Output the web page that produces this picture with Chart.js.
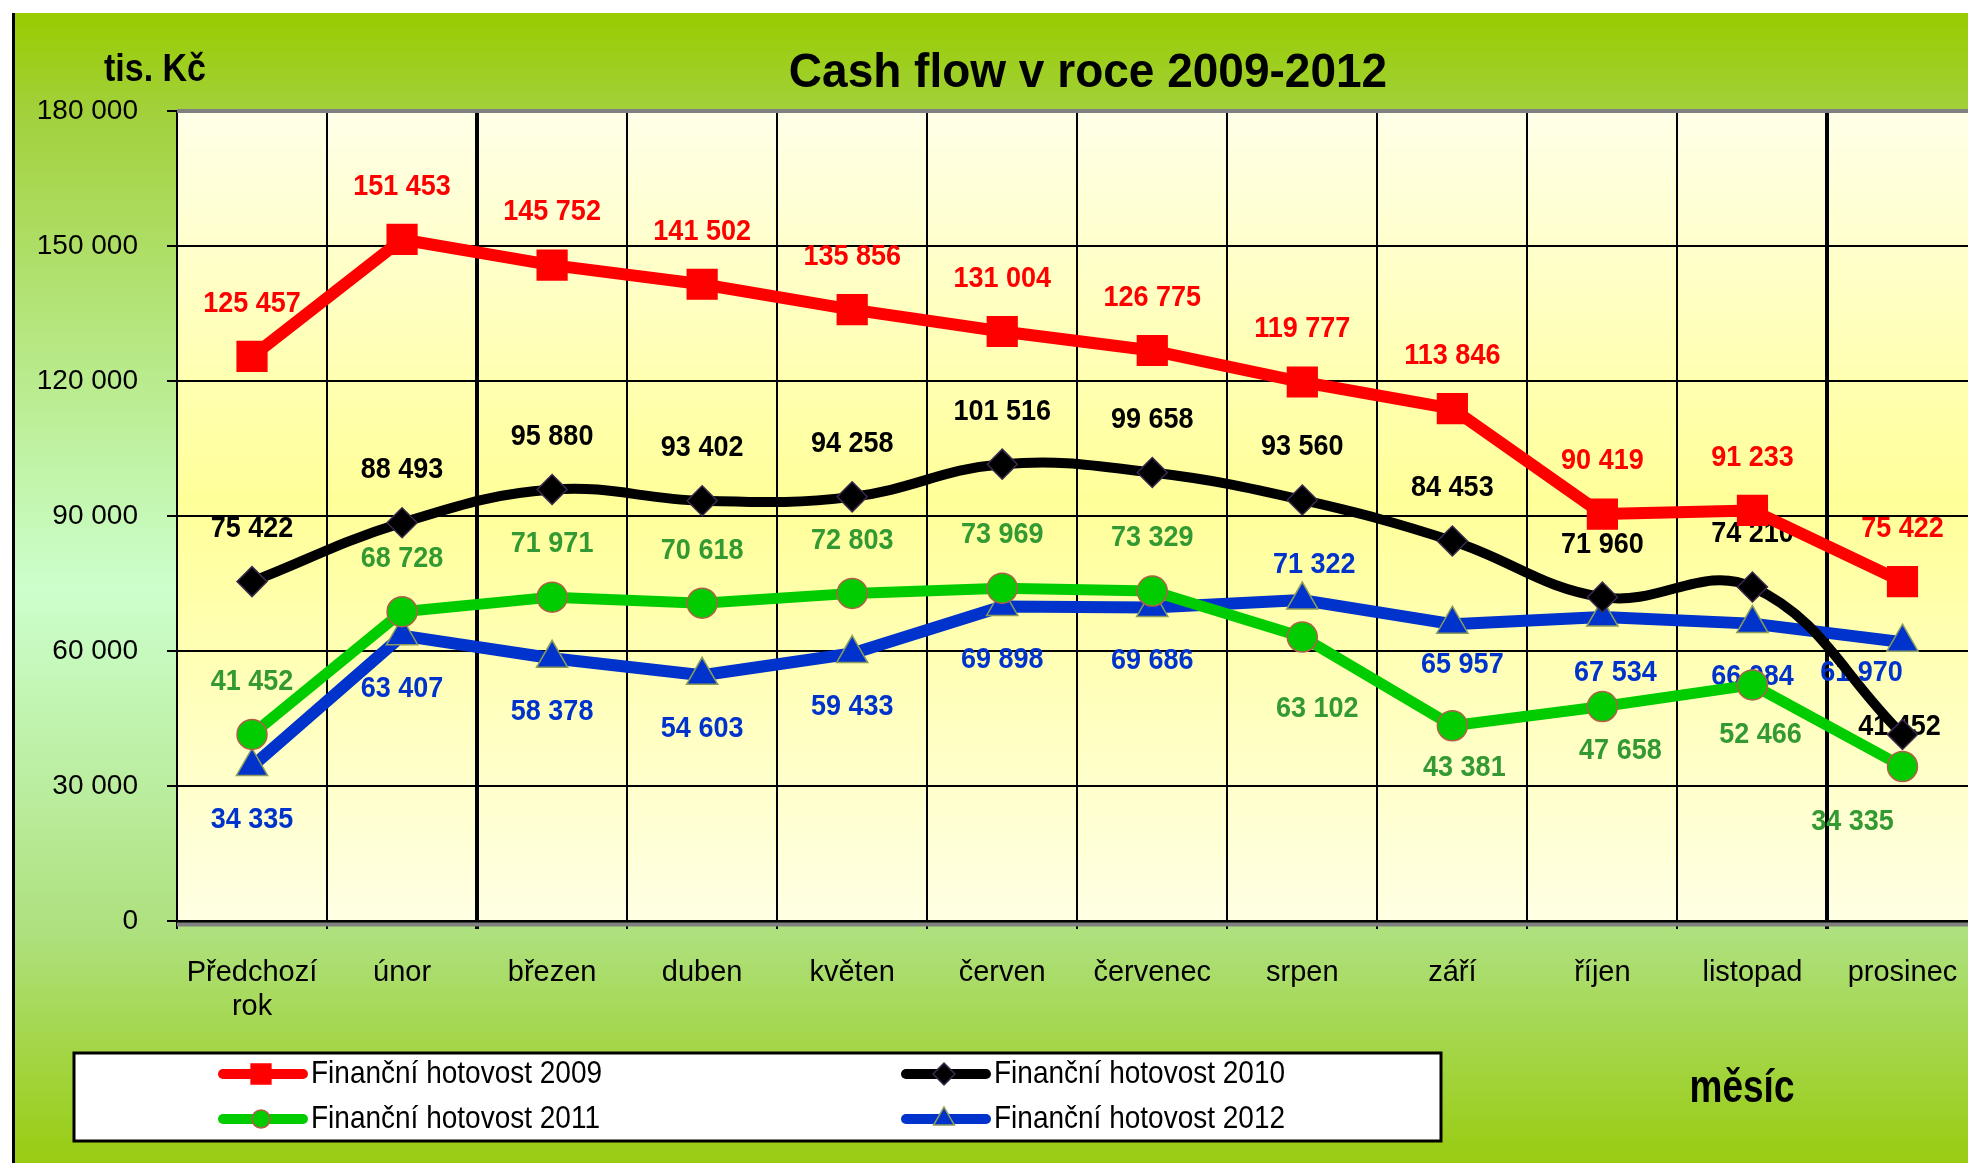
<!DOCTYPE html>
<html lang="cs">
<head>
<meta charset="utf-8">
<title>Cash flow v roce 2009-2012</title>
<script src="https://cdn.jsdelivr.net/npm/chart.js@4.4.1/dist/chart.umd.min.js"></script>
<style>
  html, body { margin: 0; padding: 0; background: #fff; overflow: hidden; }
  canvas { display: block; }
</style>
</head>
<body>
<canvas id="cashflow" width="2000" height="1163"></canvas>
<script>
// Cash flow 2009-2012 (tis. Kč)
const months = [['Předchozí', 'rok'], 'únor', 'březen', 'duben', 'květen', 'červen',
  'červenec', 'srpen', 'září', 'říjen', 'listopad', 'prosinec'];
const hotovost2009 = [125457, 151453, 145752, 141502, 135856, 131004, 126775, 119777, 113846, 90419, 91233, 75422];
const hotovost2010 = [75422, 88493, 95880, 93402, 94258, 101516, 99658, 93560, 84453, 71960, 74210, 41452];
const hotovost2011 = [41452, 68728, 71971, 70618, 72803, 73969, 73329, 63102, 43381, 47658, 52466, 34335];
const hotovost2012 = [34335, 63407, 58378, 54603, 59433, 69898, 69686, 71322, 65957, 67534, 66084, 61970];
const seriesNames = ['Finanční hotovost 2009', 'Finanční hotovost 2010', 'Finanční hotovost 2011', 'Finanční hotovost 2012'];
const yMin = 0, yMax = 180000, yStep = 30000;

const FONT = "'Liberation Sans', Arial, sans-serif";
const THICK_GRID = [2, 11];
const labelColors = ['#ff0000', '#000000', '#339933', '#0033cc'];
const labelSide = [-53, -53, -53, 53];
// hand-placed value labels (dx, dy from the point), like in the original sheet
const labelNudge = {
  '1:11': [-3, -8],
  '2:7': [15, 72], '2:8': [12, 42], '2:9': [18, 44], '2:10': [8, 50], '2:11': [-50, 55],
  '3:7': [12, -35], '3:8': [10, 40], '3:9': [13, 56], '3:10': [0, 53], '3:11': [-41, 31]
};
const legendMarker = [14, 11, 9, 12];

const fmt = v => String(v).replace(/\B(?=(\d{3})+(?!\d))/g, ' ');

function stretchedText(ctx, text, x, y, font, sy, opts = {}) {
  ctx.save();
  ctx.font = font;
  ctx.fillStyle = opts.color || '#000';
  ctx.textAlign = opts.align || 'center';
  ctx.textBaseline = opts.baseline || 'alphabetic';
  ctx.translate(x, y);
  ctx.scale(1, sy);
  ctx.fillText(text, 0, 0);
  ctx.restore();
}

const backdrop = {
  id: 'backdrop',
  beforeDraw(chart) {
    const { ctx, width, height, chartArea: a } = chart;
    ctx.save();
    ctx.fillStyle = '#fff';
    ctx.fillRect(0, 0, width, height);
    const g = ctx.createLinearGradient(0, 13, 0, height);
    g.addColorStop(0, '#99cc00');
    g.addColorStop(0.09, '#a2d13e');
    g.addColorStop(0.5, '#ccffcc');
    g.addColorStop(0.8, '#aee07e');
    g.addColorStop(1, '#99cc11');
    ctx.fillStyle = g;
    ctx.fillRect(14, 13, width - 14, height - 13);
    ctx.fillStyle = '#000';
    ctx.fillRect(12, 13, 3, height - 13);
    const p = ctx.createLinearGradient(0, a.top, 0, a.bottom);
    p.addColorStop(0, '#ffffe8');
    p.addColorStop(0.48, '#ffff99');
    p.addColorStop(1, '#ffffe4');
    ctx.fillStyle = p;
    ctx.fillRect(a.left, a.top, a.right - a.left, a.bottom - a.top);
    ctx.restore();
  }
};

const valueLabels = {
  id: 'valueLabels',
  beforeDatasetsDraw(chart) {
    const { ctx, chartArea: a } = chart;
    ctx.save();
    ctx.fillStyle = '#808080';
    ctx.fillRect(a.left, a.top - 2, a.right - a.left, 4);
    ctx.fillRect(a.left, a.bottom + 1.5, a.right - a.left, 4);
    ctx.restore();
    chart.data.datasets.forEach((ds, i) => {
      chart.getDatasetMeta(i).data.forEach((pt, j) => {
        const n = labelNudge[`${i}:${j}`] || [0, labelSide[i]];
        stretchedText(ctx, fmt(ds.data[j]), pt.x + n[0], pt.y + n[1], `bold 27px ${FONT}`, 1.12,
          { color: labelColors[i], baseline: 'middle' });
      });
    });
  }
};

const legendBox = {
  id: 'legendBox',
  afterDraw(chart) {
    const ctx = chart.ctx;
    ctx.save();
    ctx.fillStyle = '#fff';
    ctx.fillRect(74, 1053, 1367, 88);
    ctx.strokeStyle = '#000';
    ctx.lineWidth = 3;
    ctx.strokeRect(74, 1053, 1367, 88);
    const cols = [218, 901], rows = [1074, 1119];
    chart.data.datasets.forEach((ds, i) => {
      const x = cols[i % 2], y = rows[Math.floor(i / 2)];
      ctx.strokeStyle = ds.borderColor;
      ctx.lineWidth = 10;
      ctx.lineCap = 'round';
      ctx.beginPath();
      ctx.moveTo(x + 5, y);
      ctx.lineTo(x + 85, y);
      ctx.stroke();
      ctx.fillStyle = ds.pointBackgroundColor;
      ctx.strokeStyle = ds.pointBorderColor;
      ctx.lineWidth = ds.pointBorderWidth;
      Chart.helpers.drawPoint(ctx, { pointStyle: ds.pointStyle, radius: legendMarker[i], borderWidth: ds.pointBorderWidth, rotation: 0 }, x + 43, y);
      stretchedText(ctx, ds.label, x + 93, y + 1, `28px ${FONT}`, 1.1, { align: 'left', baseline: 'middle' });
    });
    ctx.restore();
    stretchedText(ctx, 'Cash flow v roce 2009-2012', 1088, 87, `bold 46px ${FONT}`, 1.06);
    stretchedText(ctx, 'tis. Kč', 155, 81, `bold 34px ${FONT}`, 1.15);
    stretchedText(ctx, 'měsíc', 1742, 1102, `bold 37px ${FONT}`, 1.25);
  }
};

const series = [
  { data: hotovost2009, color: '#ff0000', width: 12, style: 'rect', radius: 21, fill: '#ff0000', border: '#ff0000', tension: 0 },
  { data: hotovost2010, color: '#000000', width: 10, style: 'rectRot', radius: 15, fill: '#000000', border: '#3a2a50', tension: 0.4 },
  { data: hotovost2011, color: '#00cc00', width: 11, style: 'circle', radius: 15, fill: '#00cc00', border: '#b0604a', tension: 0 },
  { data: hotovost2012, color: '#0033cc', width: 12, style: 'triangle', radius: 18, fill: '#0033cc', border: '#8c9c5c', tension: 0 }
];

new Chart(document.getElementById('cashflow'), {
  type: 'line',
  data: {
    labels: months,
    datasets: series.map((s, i) => ({
      label: seriesNames[i],
      data: s.data,
      borderColor: s.color,
      backgroundColor: s.color,
      borderWidth: s.width,
      borderJoinStyle: 'round',
      tension: s.tension,
      pointStyle: s.style,
      pointRadius: s.radius,
      pointBackgroundColor: s.fill,
      pointBorderColor: s.border,
      pointBorderWidth: 1.5,
      clip: false
    }))
  },
  options: {
    responsive: false,
    animation: false,
    devicePixelRatio: 1,
    events: [],
    layout: { padding: { left: 13, top: 111, right: 19, bottom: 0 } },
    plugins: { legend: { display: false }, tooltip: { enabled: false } },
    scales: {
      x: {
        offset: true,
        grid: { offset: true, color: '#000', lineWidth: c => THICK_GRID.includes(c.index) ? 4 : 2, tickLength: 8 },
        border: { color: '#000', width: 3 },
        ticks: { color: '#000', font: { family: FONT, size: 29, lineHeight: 1.17 }, padding: 27, maxRotation: 0, autoSkip: false },
        afterFit: s => { s.height = 242; }
      },
      y: {
        min: yMin, max: yMax,
        grid: { color: '#000', lineWidth: 2, tickLength: 10 },
        border: { color: '#000', width: 2 },
        ticks: { stepSize: yStep, callback: fmt, color: '#000', font: { family: FONT, size: 28 }, padding: 29 },
        afterFit: s => { s.width = 164; }
      }
    }
  },
  plugins: [backdrop, valueLabels, legendBox]
});
</script>
</body>
</html>
